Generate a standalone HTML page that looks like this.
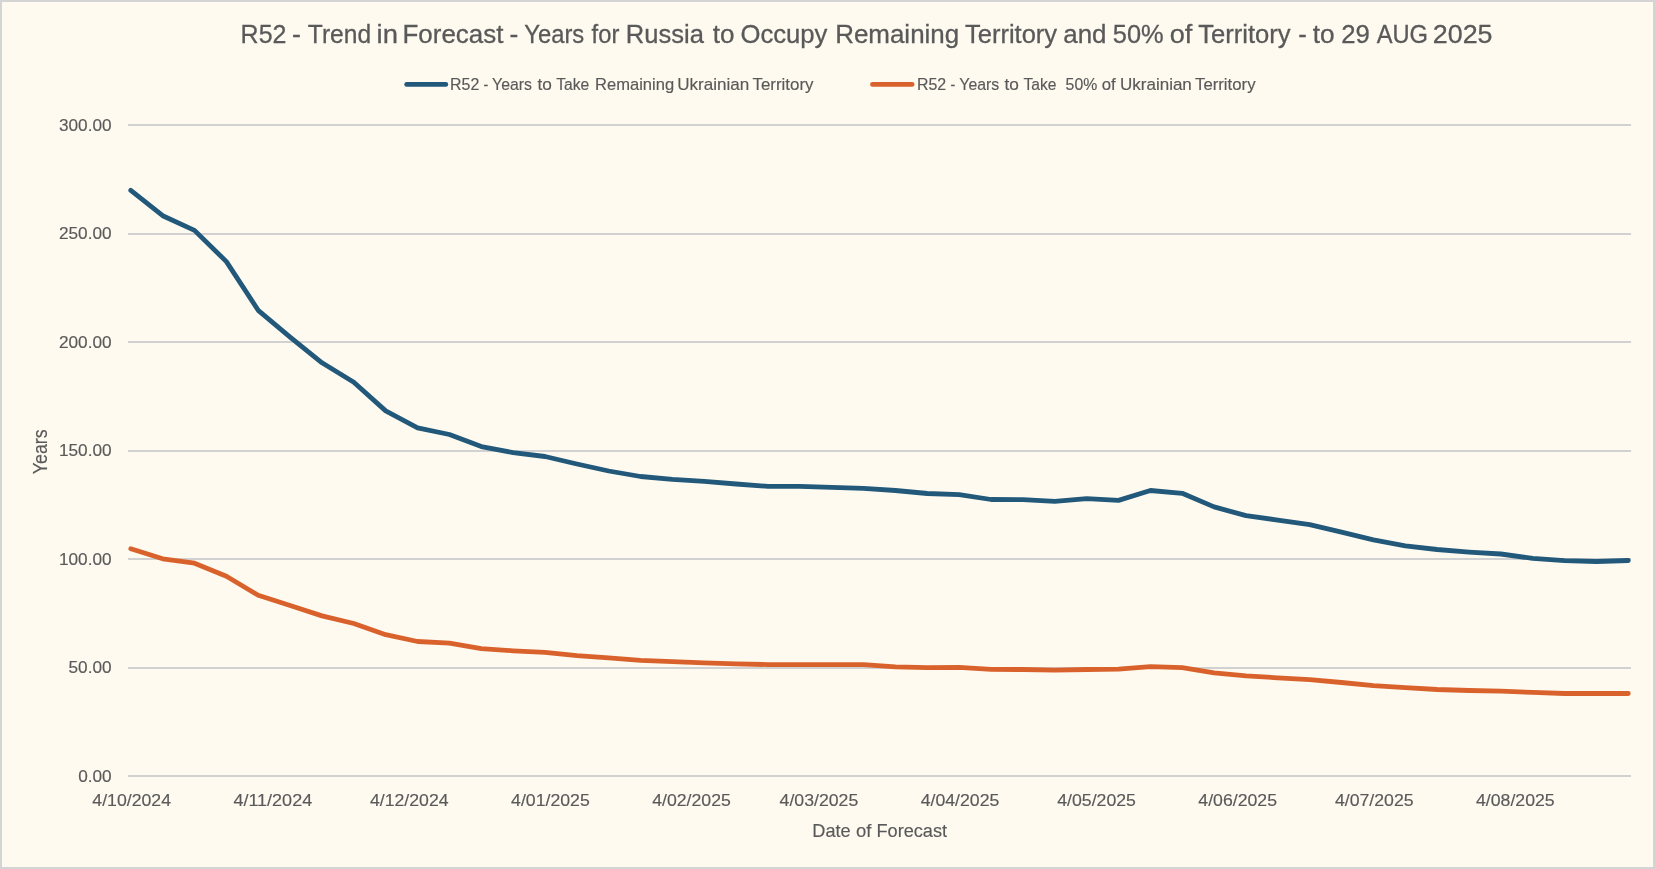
<!DOCTYPE html>
<html><head><meta charset="utf-8"><title>R52 chart</title>
<style>html,body{margin:0;padding:0;background:#fefaf0;overflow:hidden}body{width:1655px;height:869px;position:relative}svg{position:absolute;left:0;top:0;display:block;will-change:transform}text{font-family:"Liberation Sans", sans-serif;fill:#595959;stroke:#595959;stroke-width:0.15px;paint-order:stroke fill}.tt text{stroke-width:0.3px}</style></head><body>
<svg width="1655" height="869" viewBox="0 0 1655 869">
<rect x="0" y="0" width="1655" height="869" fill="#d4d4d4"/>
<rect x="2" y="2" width="1651" height="865" fill="#fefaf0"/>
<g fill="#d1d1d2" shape-rendering="crispEdges">
<rect x="128" y="124" width="1503" height="2"/>
<rect x="128" y="233" width="1503" height="2"/>
<rect x="128" y="341" width="1503" height="2"/>
<rect x="128" y="450" width="1503" height="2"/>
<rect x="128" y="558" width="1503" height="2"/>
<rect x="128" y="667" width="1503" height="2"/>
<rect x="128" y="775" width="1503" height="2"/>
</g>
<g class="tt">
<text transform="translate(240.61 43.20) scale(0.9467 1)" font-size="26.4">R52</text>
<text transform="translate(291.99 43.20) scale(1.0143 1)" font-size="26.4">-</text>
<text transform="translate(307.80 43.20) scale(0.9309 1)" font-size="26.4">Trend</text>
<text transform="translate(376.56 43.20) scale(1.0412 1)" font-size="26.4">in</text>
<text transform="translate(402.54 43.20) scale(0.9819 1)" font-size="26.4">Forecast</text>
<text transform="translate(509.40 43.20) scale(1.0000 1)" font-size="26.4">-</text>
<text transform="translate(524.30 43.20) scale(0.9002 1)" font-size="26.4">Years</text>
<text transform="translate(591.60 43.20) scale(0.8997 1)" font-size="26.4">for</text>
<text transform="translate(625.86 43.20) scale(0.9685 1)" font-size="26.4">Russia</text>
<text transform="translate(712.70 43.20) scale(0.9891 1)" font-size="26.4">to</text>
<text transform="translate(740.43 43.20) scale(0.9723 1)" font-size="26.4">Occupy</text>
<text transform="translate(835.13 43.20) scale(0.9839 1)" font-size="26.4">Remaining</text>
<text transform="translate(965.00 43.20) scale(0.9666 1)" font-size="26.4">Territory</text>
<text transform="translate(1063.22 43.20) scale(0.9818 1)" font-size="26.4">and</text>
<text transform="translate(1112.74 43.20) scale(0.9639 1)" font-size="26.4">50%</text>
<text transform="translate(1169.77 43.20) scale(1.0287 1)" font-size="26.4">of</text>
<text transform="translate(1198.20 43.20) scale(0.9697 1)" font-size="26.4">Territory</text>
<text transform="translate(1298.23 43.20) scale(0.9714 1)" font-size="26.4">-</text>
<text transform="translate(1312.80 43.20) scale(0.9938 1)" font-size="26.4">to</text>
<text transform="translate(1341.22 43.20) scale(0.9755 1)" font-size="26.4">29</text>
<text transform="translate(1376.70 43.20) scale(0.8965 1)" font-size="26.4">AUG</text>
<text transform="translate(1432.78 43.20) scale(1.0170 1)" font-size="26.4">2025</text>
</g>
<g>
<text transform="translate(450.00 89.70) scale(0.9981 1)" font-size="16.0">R52</text>
<text transform="translate(483.40 89.70) scale(0.9000 1)" font-size="16.0">-</text>
<text transform="translate(492.10 89.70) scale(0.9894 1)" font-size="16.0">Years</text>
<text transform="translate(537.40 89.70) scale(1.0784 1)" font-size="16.0">to</text>
<text transform="translate(556.20 89.70) scale(0.9794 1)" font-size="16.0">Take</text>
<text transform="translate(595.06 89.70) scale(1.0350 1)" font-size="16.0">Remaining</text>
<text transform="translate(677.13 89.70) scale(1.0672 1)" font-size="16.0">Ukrainian</text>
<text transform="translate(752.50 89.70) scale(1.0574 1)" font-size="16.0">Territory</text>
<text transform="translate(916.90 89.70) scale(0.9981 1)" font-size="16.0">R52</text>
<text transform="translate(950.50 89.70) scale(0.9000 1)" font-size="16.0">-</text>
<text transform="translate(959.30 89.70) scale(0.9894 1)" font-size="16.0">Years</text>
<text transform="translate(1004.50 89.70) scale(1.0784 1)" font-size="16.0">to</text>
<text transform="translate(1023.40 89.70) scale(0.9764 1)" font-size="16.0">Take</text>
<text transform="translate(1065.60 89.70) scale(0.9875 1)" font-size="16.0">50%</text>
<text transform="translate(1101.70 89.70) scale(1.0505 1)" font-size="16.0">of</text>
<text transform="translate(1120.04 89.70) scale(1.0626 1)" font-size="16.0">Ukrainian</text>
<text transform="translate(1195.00 89.70) scale(1.0488 1)" font-size="16.0">Territory</text>
<text transform="translate(812.32 836.50) scale(0.9754 1)" font-size="18.6">Date</text>
<text transform="translate(855.90 836.50) scale(0.9914 1)" font-size="18.6">of</text>
<text transform="translate(876.42 836.50) scale(0.9783 1)" font-size="18.6">Forecast</text>
</g>
<line x1="406.7" y1="84.4" x2="445.8" y2="84.4" stroke="#22587a" stroke-width="4.8" stroke-linecap="round"/>
<line x1="872.5" y1="84.4" x2="912.1" y2="84.4" stroke="#d9622c" stroke-width="4.8" stroke-linecap="round"/>
<g>
<text transform="translate(58.98 130.90) scale(1.0500 1)" font-size="16.4">300.00</text>
<text transform="translate(58.98 238.90) scale(1.0500 1)" font-size="16.4">250.00</text>
<text transform="translate(58.98 347.90) scale(1.0500 1)" font-size="16.4">200.00</text>
<text transform="translate(58.98 455.90) scale(1.0500 1)" font-size="16.4">150.00</text>
<text transform="translate(58.98 564.90) scale(1.0500 1)" font-size="16.4">100.00</text>
<text transform="translate(68.55 672.90) scale(1.0500 1)" font-size="16.4">50.00</text>
<text transform="translate(78.13 781.90) scale(1.0500 1)" font-size="16.4">0.00</text>
</g>
<g>
<text transform="translate(92.30 805.80) scale(1.0796 1)" font-size="16.4">4/10/2024</text>
<text transform="translate(233.40 805.80) scale(1.0980 1)" font-size="16.4">4/11/2024</text>
<text transform="translate(369.95 805.80) scale(1.0796 1)" font-size="16.4">4/12/2024</text>
<text transform="translate(511.05 805.80) scale(1.0796 1)" font-size="16.4">4/01/2025</text>
<text transform="translate(652.16 805.80) scale(1.0796 1)" font-size="16.4">4/02/2025</text>
<text transform="translate(779.60 805.80) scale(1.0796 1)" font-size="16.4">4/03/2025</text>
<text transform="translate(920.70 805.80) scale(1.0796 1)" font-size="16.4">4/04/2025</text>
<text transform="translate(1057.25 805.80) scale(1.0796 1)" font-size="16.4">4/05/2025</text>
<text transform="translate(1198.36 805.80) scale(1.0796 1)" font-size="16.4">4/06/2025</text>
<text transform="translate(1334.91 805.80) scale(1.0796 1)" font-size="16.4">4/07/2025</text>
<text transform="translate(1476.01 805.80) scale(1.0796 1)" font-size="16.4">4/08/2025</text>
</g>
<text transform="translate(47.2,474.2) rotate(-90)" x="0" y="0" font-size="19.4" textLength="44.8" lengthAdjust="spacingAndGlyphs">Years</text>
<polyline points="130.8,190.3 162.7,215.7 194.5,230.4 226.4,261.6 258.2,310.3 290.1,337.1 322.0,362.8 353.8,382.3 385.7,410.9 417.6,427.8 449.4,434.5 481.3,446.6 513.1,452.6 545.0,456.5 576.9,464.0 608.7,471.0 640.6,476.5 672.4,479.4 704.3,481.4 736.2,484.0 768.0,486.4 799.9,486.4 831.8,487.4 863.6,488.3 895.5,490.5 927.3,493.5 959.2,494.6 991.1,499.5 1022.9,499.7 1054.8,501.4 1086.7,498.6 1118.5,500.4 1150.4,490.5 1182.2,493.3 1214.1,506.9 1246.0,515.6 1277.8,520.1 1309.7,524.7 1341.5,532.2 1373.4,539.9 1405.3,545.8 1437.1,549.5 1469.0,552.1 1500.9,554.0 1532.7,558.4 1564.6,560.6 1596.4,561.5 1628.3,560.5" fill="none" stroke="#22587a" stroke-width="4.8" stroke-linecap="round" stroke-linejoin="round"/>
<polyline points="130.8,548.7 162.7,558.8 194.5,563.2 226.4,576.3 258.2,595.3 290.1,605.5 322.0,615.9 353.8,623.5 385.7,634.7 417.6,641.5 449.4,643.2 481.3,648.6 513.1,650.8 545.0,652.3 576.9,655.6 608.7,657.8 640.6,660.4 672.4,661.6 704.3,662.8 736.2,663.8 768.0,664.6 799.9,664.6 831.8,664.6 863.6,664.6 895.5,666.8 927.3,667.6 959.2,667.4 991.1,669.4 1022.9,669.5 1054.8,670.2 1086.7,669.5 1118.5,669.2 1150.4,666.6 1182.2,667.6 1214.1,672.8 1246.0,675.8 1277.8,677.8 1309.7,679.7 1341.5,682.5 1373.4,685.7 1405.3,687.7 1437.1,689.5 1469.0,690.5 1500.9,691.1 1532.7,692.4 1564.6,693.5 1596.4,693.5 1628.3,693.5" fill="none" stroke="#d9622c" stroke-width="4.8" stroke-linecap="round" stroke-linejoin="round"/>
</svg></body></html>
